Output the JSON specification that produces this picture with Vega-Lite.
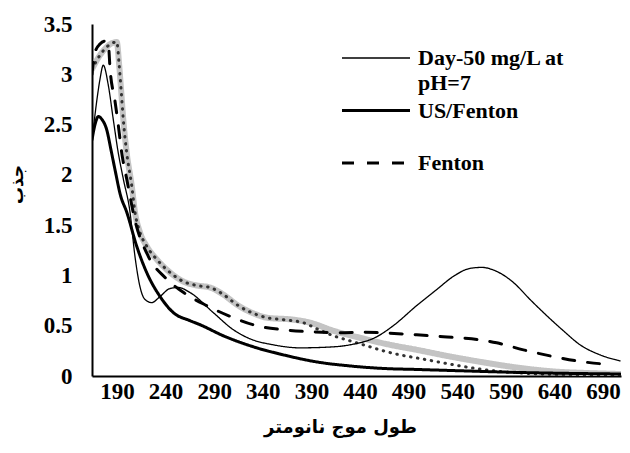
{
  "$schema": "https://vega.github.io/schema/vega-lite/v6.json",
  "width": 529,
  "height": 352,
  "autosize": {"type": "none"},
  "padding": {"left": 92, "top": 24, "right": 9, "bottom": 77},
  "background": "white",
  "config": {
    "view": {"stroke": null},
    "style": {"guide-label": {"lineHeight": 25}}
  },
  "datasets": {
    "spectra": [
      {"s": "Series 5", "x": 164.3, "y": 3.05},
      {"s": "Series 5", "x": 172.5, "y": 3.19},
      {"s": "Series 5", "x": 179.4, "y": 3.27},
      {"s": "Series 5", "x": 184.9, "y": 3.31},
      {"s": "Series 5", "x": 189.8, "y": 3.32},
      {"s": "Series 5", "x": 192.2, "y": 3.1},
      {"s": "Series 5", "x": 194.2, "y": 2.85},
      {"s": "Series 5", "x": 196.5, "y": 2.55},
      {"s": "Series 5", "x": 200.0, "y": 2.22},
      {"s": "Series 5", "x": 205.2, "y": 1.89},
      {"s": "Series 5", "x": 208.5, "y": 1.63},
      {"s": "Series 5", "x": 213.6, "y": 1.43},
      {"s": "Series 5", "x": 220.6, "y": 1.29},
      {"s": "Series 5", "x": 230.9, "y": 1.16},
      {"s": "Series 5", "x": 244.5, "y": 1.03},
      {"s": "Series 5", "x": 258.2, "y": 0.94},
      {"s": "Series 5", "x": 272.1, "y": 0.9},
      {"s": "Series 5", "x": 285.7, "y": 0.88},
      {"s": "Series 5", "x": 299.4, "y": 0.81},
      {"s": "Series 5", "x": 313.2, "y": 0.71},
      {"s": "Series 5", "x": 333.7, "y": 0.61},
      {"s": "Series 5", "x": 344.0, "y": 0.58},
      {"s": "Series 5", "x": 371.4, "y": 0.56},
      {"s": "Series 5", "x": 388.6, "y": 0.53},
      {"s": "Series 5", "x": 412.6, "y": 0.45},
      {"s": "Series 5", "x": 440.0, "y": 0.38},
      {"s": "Series 5", "x": 470.9, "y": 0.31},
      {"s": "Series 5", "x": 498.3, "y": 0.26},
      {"s": "Series 5", "x": 529.2, "y": 0.2},
      {"s": "Series 5", "x": 570.3, "y": 0.13},
      {"s": "Series 5", "x": 604.6, "y": 0.08},
      {"s": "Series 5", "x": 638.9, "y": 0.045},
      {"s": "Series 5", "x": 672.3, "y": 0.03},
      {"s": "Series 5", "x": 707.5, "y": 0.02},

      {"s": "Series 4", "x": 164.3, "y": 3.05},
      {"s": "Series 4", "x": 172.5, "y": 3.19},
      {"s": "Series 4", "x": 179.4, "y": 3.27},
      {"s": "Series 4", "x": 184.9, "y": 3.31},
      {"s": "Series 4", "x": 189.8, "y": 3.32},
      {"s": "Series 4", "x": 192.2, "y": 3.1},
      {"s": "Series 4", "x": 194.2, "y": 2.85},
      {"s": "Series 4", "x": 196.5, "y": 2.55},
      {"s": "Series 4", "x": 200.0, "y": 2.22},
      {"s": "Series 4", "x": 205.2, "y": 1.89},
      {"s": "Series 4", "x": 208.5, "y": 1.63},
      {"s": "Series 4", "x": 213.6, "y": 1.43},
      {"s": "Series 4", "x": 220.6, "y": 1.29},
      {"s": "Series 4", "x": 230.9, "y": 1.16},
      {"s": "Series 4", "x": 244.5, "y": 1.03},
      {"s": "Series 4", "x": 258.2, "y": 0.94},
      {"s": "Series 4", "x": 272.1, "y": 0.9},
      {"s": "Series 4", "x": 285.7, "y": 0.88},
      {"s": "Series 4", "x": 299.4, "y": 0.81},
      {"s": "Series 4", "x": 313.2, "y": 0.71},
      {"s": "Series 4", "x": 333.7, "y": 0.61},
      {"s": "Series 4", "x": 344.0, "y": 0.58},
      {"s": "Series 4", "x": 361.2, "y": 0.56},
      {"s": "Series 4", "x": 381.7, "y": 0.53},
      {"s": "Series 4", "x": 395.5, "y": 0.47},
      {"s": "Series 4", "x": 412.6, "y": 0.4},
      {"s": "Series 4", "x": 429.7, "y": 0.35},
      {"s": "Series 4", "x": 446.9, "y": 0.3},
      {"s": "Series 4", "x": 464.0, "y": 0.25},
      {"s": "Series 4", "x": 481.1, "y": 0.21},
      {"s": "Series 4", "x": 498.3, "y": 0.18},
      {"s": "Series 4", "x": 525.7, "y": 0.13},
      {"s": "Series 4", "x": 542.9, "y": 0.1},
      {"s": "Series 4", "x": 570.3, "y": 0.06},
      {"s": "Series 4", "x": 604.6, "y": 0.03},
      {"s": "Series 4", "x": 656.1, "y": 0.012},
      {"s": "Series 4", "x": 707.5, "y": 0.01},

      {"s": "Fenton", "x": 164.3, "y": 3.0},
      {"s": "Fenton", "x": 167.4, "y": 3.22},
      {"s": "Fenton", "x": 172.5, "y": 3.3},
      {"s": "Fenton", "x": 177.7, "y": 3.33},
      {"s": "Fenton", "x": 181.1, "y": 3.3},
      {"s": "Fenton", "x": 182.9, "y": 3.05},
      {"s": "Fenton", "x": 188.0, "y": 2.73},
      {"s": "Fenton", "x": 191.4, "y": 2.49},
      {"s": "Fenton", "x": 194.9, "y": 2.22},
      {"s": "Fenton", "x": 200.0, "y": 1.96},
      {"s": "Fenton", "x": 208.5, "y": 1.55},
      {"s": "Fenton", "x": 222.2, "y": 1.19},
      {"s": "Fenton", "x": 239.4, "y": 0.98},
      {"s": "Fenton", "x": 260.0, "y": 0.82},
      {"s": "Fenton", "x": 282.3, "y": 0.7},
      {"s": "Fenton", "x": 309.7, "y": 0.58},
      {"s": "Fenton", "x": 333.7, "y": 0.5},
      {"s": "Fenton", "x": 361.2, "y": 0.46},
      {"s": "Fenton", "x": 388.6, "y": 0.44},
      {"s": "Fenton", "x": 417.7, "y": 0.43},
      {"s": "Fenton", "x": 445.1, "y": 0.435},
      {"s": "Fenton", "x": 470.9, "y": 0.425},
      {"s": "Fenton", "x": 498.3, "y": 0.41},
      {"s": "Fenton", "x": 525.7, "y": 0.39},
      {"s": "Fenton", "x": 554.9, "y": 0.37},
      {"s": "Fenton", "x": 580.6, "y": 0.33},
      {"s": "Fenton", "x": 608.1, "y": 0.26},
      {"s": "Fenton", "x": 635.5, "y": 0.2},
      {"s": "Fenton", "x": 663.0, "y": 0.15},
      {"s": "Fenton", "x": 690.4, "y": 0.12},
      {"s": "Fenton", "x": 699.3, "y": 0.115},

      {"s": "US/Fenton", "x": 164.3, "y": 2.35},
      {"s": "US/Fenton", "x": 167.4, "y": 2.5},
      {"s": "US/Fenton", "x": 170.8, "y": 2.58},
      {"s": "US/Fenton", "x": 174.6, "y": 2.55},
      {"s": "US/Fenton", "x": 179.4, "y": 2.45},
      {"s": "US/Fenton", "x": 183.8, "y": 2.25},
      {"s": "US/Fenton", "x": 188.0, "y": 2.05},
      {"s": "US/Fenton", "x": 193.5, "y": 1.8},
      {"s": "US/Fenton", "x": 200.0, "y": 1.63},
      {"s": "US/Fenton", "x": 210.3, "y": 1.29},
      {"s": "US/Fenton", "x": 220.5, "y": 1.03},
      {"s": "US/Fenton", "x": 234.3, "y": 0.79},
      {"s": "US/Fenton", "x": 248.0, "y": 0.63},
      {"s": "US/Fenton", "x": 265.1, "y": 0.55},
      {"s": "US/Fenton", "x": 275.4, "y": 0.51},
      {"s": "US/Fenton", "x": 299.4, "y": 0.4},
      {"s": "US/Fenton", "x": 333.7, "y": 0.28},
      {"s": "US/Fenton", "x": 361.2, "y": 0.21},
      {"s": "US/Fenton", "x": 395.5, "y": 0.14},
      {"s": "US/Fenton", "x": 429.7, "y": 0.1},
      {"s": "US/Fenton", "x": 464.0, "y": 0.075},
      {"s": "US/Fenton", "x": 498.3, "y": 0.065},
      {"s": "US/Fenton", "x": 532.7, "y": 0.055},
      {"s": "US/Fenton", "x": 604.6, "y": 0.035},
      {"s": "US/Fenton", "x": 707.5, "y": 0.02},

      {"s": "Day-50 mg/L at pH=7", "x": 164.3, "y": 2.34},
      {"s": "Day-50 mg/L at pH=7", "x": 169.4, "y": 2.75},
      {"s": "Day-50 mg/L at pH=7", "x": 172.5, "y": 2.95},
      {"s": "Day-50 mg/L at pH=7", "x": 175.9, "y": 3.09},
      {"s": "Day-50 mg/L at pH=7", "x": 181.1, "y": 2.89},
      {"s": "Day-50 mg/L at pH=7", "x": 186.2, "y": 2.55},
      {"s": "Day-50 mg/L at pH=7", "x": 191.3, "y": 2.22},
      {"s": "Day-50 mg/L at pH=7", "x": 196.5, "y": 1.96},
      {"s": "Day-50 mg/L at pH=7", "x": 203.4, "y": 1.63},
      {"s": "Day-50 mg/L at pH=7", "x": 208.5, "y": 1.19},
      {"s": "Day-50 mg/L at pH=7", "x": 213.6, "y": 0.89},
      {"s": "Day-50 mg/L at pH=7", "x": 218.9, "y": 0.76},
      {"s": "Day-50 mg/L at pH=7", "x": 225.7, "y": 0.73},
      {"s": "Day-50 mg/L at pH=7", "x": 234.3, "y": 0.79},
      {"s": "Day-50 mg/L at pH=7", "x": 244.5, "y": 0.87},
      {"s": "Day-50 mg/L at pH=7", "x": 253.1, "y": 0.88},
      {"s": "Day-50 mg/L at pH=7", "x": 265.1, "y": 0.83},
      {"s": "Day-50 mg/L at pH=7", "x": 289.1, "y": 0.63},
      {"s": "Day-50 mg/L at pH=7", "x": 309.7, "y": 0.46},
      {"s": "Day-50 mg/L at pH=7", "x": 326.8, "y": 0.37},
      {"s": "Day-50 mg/L at pH=7", "x": 350.8, "y": 0.31},
      {"s": "Day-50 mg/L at pH=7", "x": 378.3, "y": 0.28},
      {"s": "Day-50 mg/L at pH=7", "x": 412.6, "y": 0.29},
      {"s": "Day-50 mg/L at pH=7", "x": 429.7, "y": 0.31},
      {"s": "Day-50 mg/L at pH=7", "x": 457.2, "y": 0.39},
      {"s": "Day-50 mg/L at pH=7", "x": 474.2, "y": 0.5},
      {"s": "Day-50 mg/L at pH=7", "x": 498.3, "y": 0.7},
      {"s": "Day-50 mg/L at pH=7", "x": 519.0, "y": 0.86},
      {"s": "Day-50 mg/L at pH=7", "x": 536.0, "y": 0.99},
      {"s": "Day-50 mg/L at pH=7", "x": 553.2, "y": 1.07},
      {"s": "Day-50 mg/L at pH=7", "x": 565.2, "y": 1.08},
      {"s": "Day-50 mg/L at pH=7", "x": 580.6, "y": 1.04},
      {"s": "Day-50 mg/L at pH=7", "x": 597.8, "y": 0.93},
      {"s": "Day-50 mg/L at pH=7", "x": 615.0, "y": 0.76},
      {"s": "Day-50 mg/L at pH=7", "x": 632.1, "y": 0.6},
      {"s": "Day-50 mg/L at pH=7", "x": 649.2, "y": 0.45},
      {"s": "Day-50 mg/L at pH=7", "x": 666.4, "y": 0.31},
      {"s": "Day-50 mg/L at pH=7", "x": 686.9, "y": 0.21},
      {"s": "Day-50 mg/L at pH=7", "x": 707.5, "y": 0.15}
    ]
  },
  "data": {"name": "spectra"},
  "mark": {"type": "line", "interpolate": "monotone", "strokeCap": "round", "clip": true},
  "encoding": {
    "x": {
      "field": "x",
      "type": "quantitative",
      "scale": {"domain": [164.3, 708.5], "nice": false, "zero": false},
      "axis": {
        "values": [190, 240, 290, 340, 390, 440, 490, 540, 590, 640, 690],
        "format": "d",
        "title": "طول موج نانومتر",
        "titleX": 248,
        "grid": false,
        "ticks": false,
        "domainColor": "black",
        "domainWidth": 2,
        "labelFont": "Liberation Serif",
        "labelFontWeight": "bold",
        "labelFontSize": 23,
        "labelColor": "black",
        "labelPadding": 4,
        "labelFlush": false,
        "labelOverlap": false,
        "titleFont": "DejaVu Sans",
        "titleFontSize": 18,
        "titleFontWeight": "bold",
        "titleColor": "black",
        "titlePadding": 15
      }
    },
    "y": {
      "field": "y",
      "type": "quantitative",
      "scale": {"domain": [0, 3.5], "nice": false},
      "axis": {
        "values": [0, 0.5, 1, 1.5, 2, 2.5, 3, 3.5],
        "format": "~g",
        "title": "جذب",
        "titleY": 160,
        "grid": false,
        "ticks": false,
        "domainColor": "black",
        "domainWidth": 2,
        "labelFont": "Liberation Serif",
        "labelFontWeight": "bold",
        "labelFontSize": 23,
        "labelColor": "black",
        "labelPadding": 20,
        "labelFlush": false,
        "labelOverlap": false,
        "titleFont": "DejaVu Sans",
        "titleFontSize": 17,
        "titleFontWeight": "bold",
        "titleColor": "black",
        "titlePadding": 17
      }
    },
    "color": {
      "field": "s",
      "type": "nominal",
      "scale": {
        "domain": ["Series 5", "Series 4", "Fenton", "US/Fenton", "Day-50 mg/L at pH=7"],
        "range": ["#c4c4c4", "#333333", "#000000", "#000000", "#000000"]
      },
      "legend": {
        "values": ["Day-50 mg/L at pH=7", "US/Fenton", "Fenton"],
        "title": null,
        "orient": "none",
        "legendX": 273,
        "legendY": 23,
        "padding": 0,
        "rowPadding": 5.5,
        "symbolType": "M-3.4,0H3.4",
        "symbolSize": 400,
        "labelOffset": 31,
        "labelFont": "Liberation Serif",
        "labelFontWeight": "bold",
        "labelFontSize": 22,
        "labelColor": "black",
        "labelLimit": 300,
        "labelExpr": "datum.label == 'Day-50 mg/L at pH=7' ? ['Day-50 mg/L at', 'pH=7'] : [datum.label, ' ']",
        "encode": {"symbols": {"update": {"strokeWidth": {"signal": "datum.value == 'Day-50 mg/L at pH=7' ? 1.3 : 3"}}}}
      }
    },
    "strokeDash": {
      "field": "s",
      "type": "nominal",
      "scale": {
        "domain": ["Series 5", "Series 4", "Fenton", "US/Fenton", "Day-50 mg/L at pH=7"],
        "range": [[1, 0], [0.5, 6.5], [12, 13], [1, 0], [1, 0]]
      },
      "legend": {
        "values": ["Day-50 mg/L at pH=7", "US/Fenton", "Fenton"],
        "title": null,
        "orient": "none",
        "legendX": 273,
        "legendY": 23,
        "padding": 0,
        "rowPadding": 5.5,
        "symbolType": "M-3.4,0H3.4",
        "symbolSize": 400,
        "labelOffset": 31,
        "labelFont": "Liberation Serif",
        "labelFontWeight": "bold",
        "labelFontSize": 22,
        "labelColor": "black",
        "labelLimit": 300,
        "labelExpr": "datum.label == 'Day-50 mg/L at pH=7' ? ['Day-50 mg/L at', 'pH=7'] : [datum.label, ' ']",
        "encode": {"symbols": {"update": {"strokeWidth": {"signal": "datum.value == 'Day-50 mg/L at pH=7' ? 1.3 : 3"}}}}
      }
    },
    "strokeWidth": {
      "condition": [
        {"test": "datum.s === 'Series 5'", "value": 6},
        {"test": "datum.s === 'Day-50 mg/L at pH=7'", "value": 1.3}
      ],
      "value": 3
    }
  }
}
